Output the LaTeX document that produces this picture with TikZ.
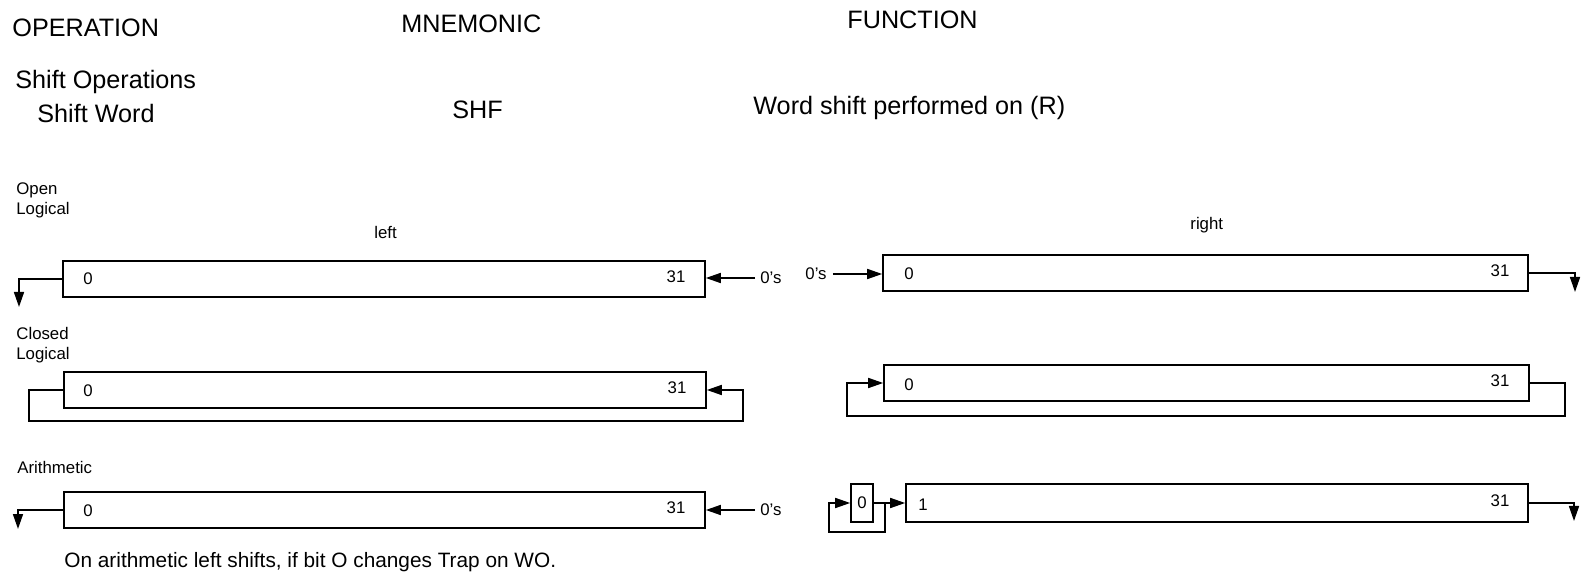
\documentclass[tikz,border=0pt]{standalone}
\usepackage{fontspec}
\setmainfont{Liberation Sans}
\usetikzlibrary{arrows.meta}
\begin{document}
\begin{tikzpicture}[x=0.5pt,y=-0.5pt,
  head/.style={font=\fontsize{12.6}{14}\selectfont, inner sep=0pt, anchor=west},
  small/.style={font=\fontsize{8.4}{10}\selectfont, inner sep=0pt, anchor=west, align=left},
  num/.style={font=\fontsize{8.4}{10}\selectfont, inner sep=0pt},
  note/.style={font=\fontsize{10.4}{12}\selectfont, inner sep=0pt, anchor=west},
  reg/.style={draw, line width=0.8pt, minimum height=18pt, inner sep=0pt, font=\fontsize{8.4}{10}\selectfont},
  wire/.style={line width=0.8pt},
  arr/.style={line width=0.8pt, -{Triangle[length=7.5pt,width=5pt]}}
]
\useasboundingbox (0,0) rectangle (1585,587);

% headings
\node[head] (hop) at (12,28) {OPERATION};
\node[head] (hmn) at (401,24) {MNEMONIC};
\node[head] (hfn) at (847,20) {FUNCTION};
\node[head] (so) at (15,82) {Shift Operations};
\node[head] (sw) at (37,113) {Shift Word};
\node[head] (shf) at (452,110) {SHF};
\node[head] (wsp) at (753,108) {Word shift performed on (R)};

% row labels
\node[small] (ol) at (16,200) {Open\\Logical};
\node[small] (lf) at (374,232) {left};
\node[small] (rt) at (1190,225) {right};
\node[small] (cl) at (16,345) {Closed\\Logical};
\node[small] (ar) at (17,467) {Arithmetic};

% ---------- Open logical ----------
\node[reg, minimum width=321pt] (L1) at (384,279) {};
\node[num] (L1a) at (88,279) {0};
\node[num] (L1b) at (676,277) {31};
\node[small] (z1) at (760,278) {0's};
\coordinate (L1o) at (19,279);
\coordinate (L1d) at (19,307);
\draw[arr] (L1.west) -- (L1o) -- (L1d);
\draw[arr] (z1.west) ++(-5,0) coordinate (z1s) -- (L1.east |- z1s);

\node[reg, minimum width=322.5pt] (R1) at (1205.5,273) {};
\node[num] (R1a) at (909,274) {0};
\node[num] (R1b) at (1500,271) {31};
\node[small] (z2) at (805,274) {0's};
\draw[arr] (z2.east) ++(6,0) coordinate (z2s) -- (R1.west |- z2s);
\coordinate (R1o) at (1575,273);
\coordinate (R1d) at (1575,292);
\draw[arr] (R1.east) -- (R1o) -- (R1d);

% ---------- Closed logical ----------
\node[reg, minimum width=321pt] (L2) at (385,390) {};
\node[num] (L2a) at (88,391) {0};
\node[num] (L2b) at (677,388) {31};
\coordinate (L2p) at (29,390);
\coordinate (L2q) at (743,421);
\draw[arr] (L2.west) -- (L2p) |- (L2q) |- (L2.east);

\node[reg, minimum width=322.5pt] (R2) at (1206.5,383) {};
\node[num] (R2a) at (909,385) {0};
\node[num] (R2b) at (1500,381) {31};
\coordinate (R2p) at (1565,383);
\coordinate (R2q) at (847,416);
\draw[arr] (R2.east) -- (R2p) |- (R2q) |- (R2.west);

% ---------- Arithmetic ----------
\node[reg, minimum width=320.5pt] (L3) at (384.5,510) {};
\node[num] (L3a) at (88,511) {0};
\node[num] (L3b) at (676,508) {31};
\node[small] (z3) at (760,510) {0's};
\coordinate (L3o) at (18,510);
\coordinate (L3d) at (18,529);
\draw[arr] (L3.west) -- (L3o) -- (L3d);
\draw[arr] (z3.west) ++(-5,0) coordinate (z3s) -- (L3.east |- z3s);

\node[reg, minimum width=11pt, minimum height=19pt] (S3) at (862,503) {0};
\node[reg, minimum width=311pt, minimum height=19pt] (R3) at (1217,503) {};
\node[num] (R3a) at (923,505) {1};
\node[num] (R3b) at (1500,501) {31};
\coordinate (jn) at (885,503);
\coordinate (lp1) at (885,532);
\coordinate (lp2) at (829,532);
\draw[arr] (S3.east) -- (R3.west);
\draw[arr] (jn) -- (lp1) -- (lp2) |- (S3.west);
\coordinate (R3o) at (1574,503);
\coordinate (R3d) at (1574,521);
\draw[arr] (R3.east) -- (R3o) -- (R3d);

% footnote
\node[note] (fn) at (64,562) {On arithmetic left shifts, if bit O changes Trap on WO.};
\end{tikzpicture}
\end{document}
